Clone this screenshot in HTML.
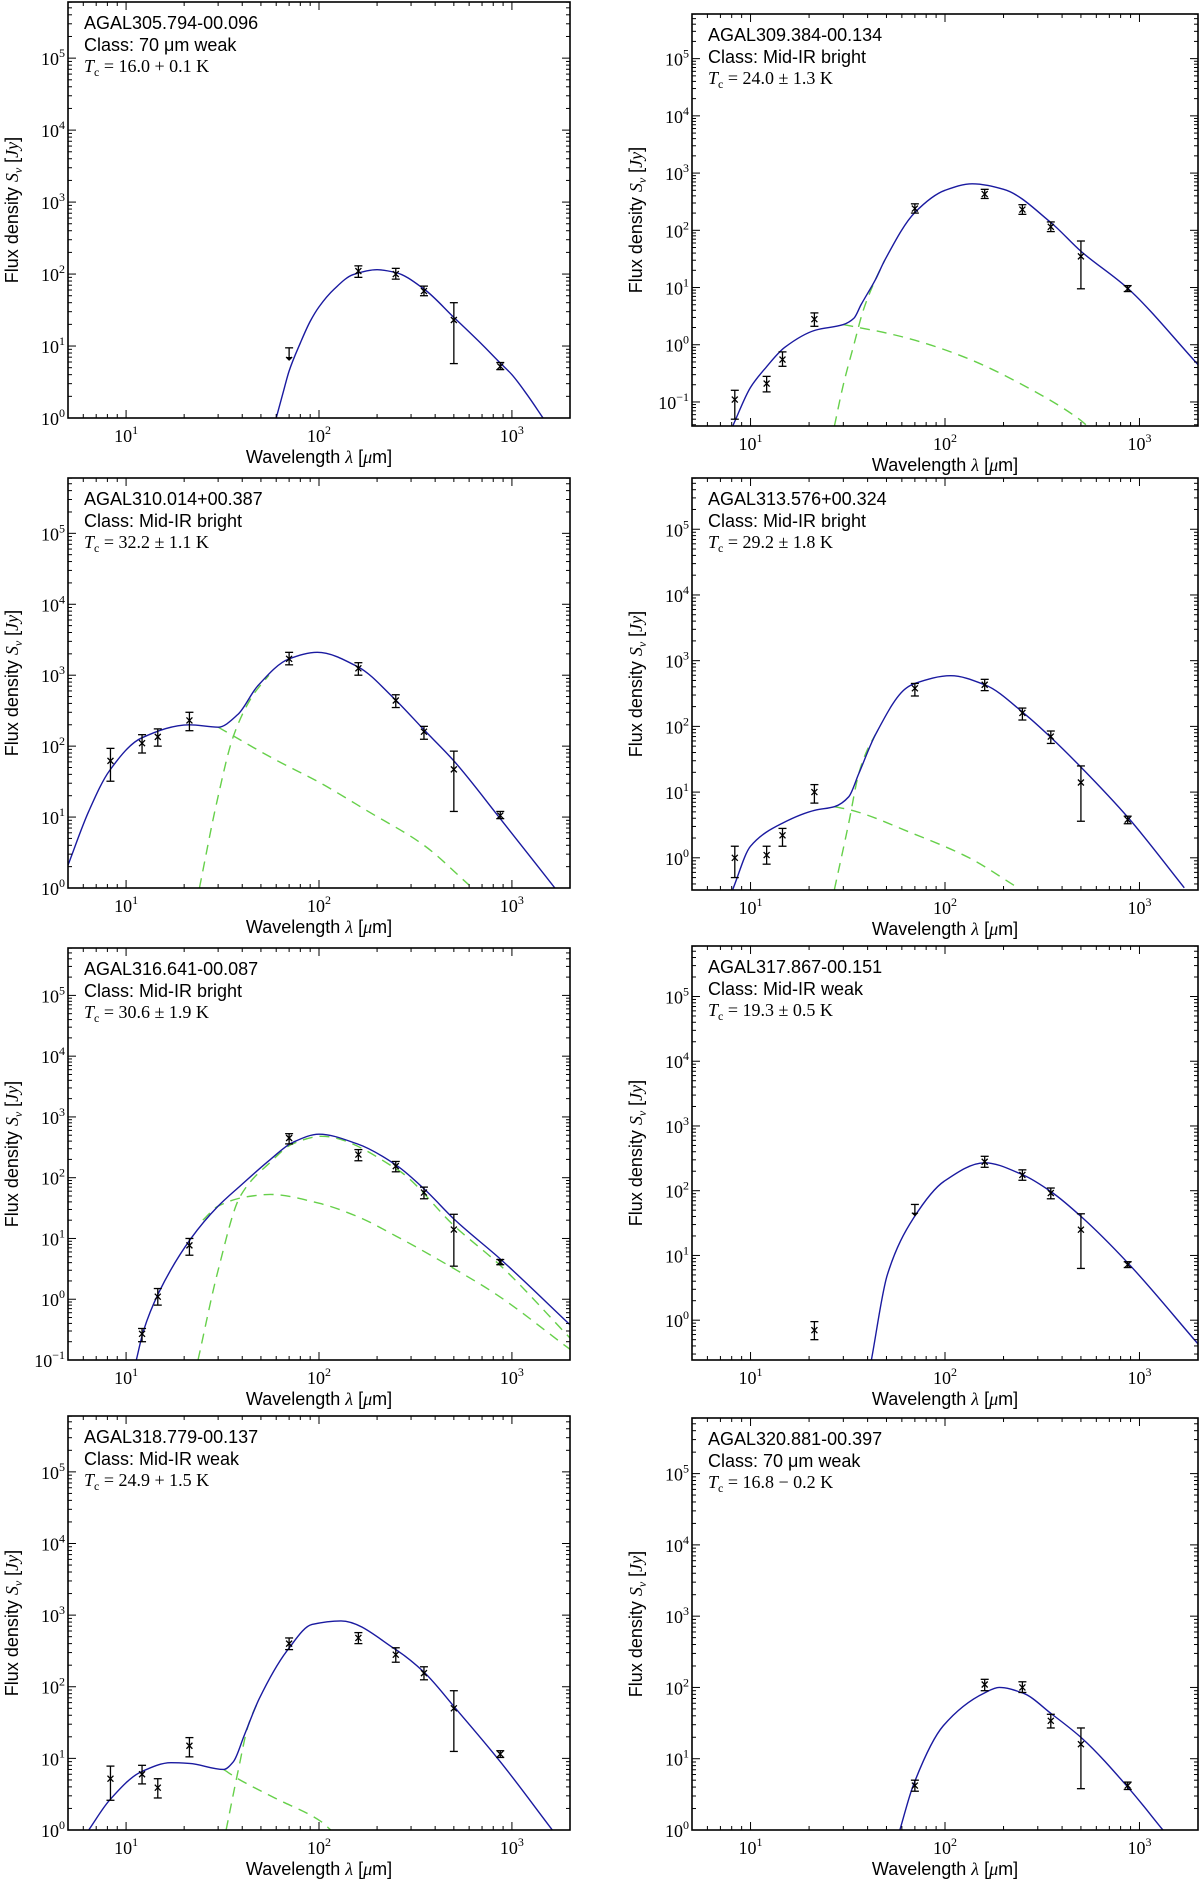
<!DOCTYPE html>
<html><head><meta charset="utf-8">
<style>
html,body{margin:0;padding:0;background:#fff;}
svg{display:block;}
.tk{font-family:"Liberation Serif",serif;font-size:18px;fill:#000;}
.lab{font-family:"Liberation Sans",sans-serif;font-size:18px;fill:#000;}
.ann{font-family:"Liberation Sans",sans-serif;font-size:18px;fill:#000;}
.annm{font-family:"Liberation Serif",serif;font-size:18px;fill:#000;}
</style></head>
<body>
<svg id="fig" width="1200" height="1879" viewBox="0 0 1200 1879" xmlns="http://www.w3.org/2000/svg"></svg>
<script>
// ---- data ----
const pointWave = [8.3, 12.1, 14.6, 21.3, 70, 160, 250, 350, 500, 870];
const sourceNames = ["AGAL305.794-00.096","AGAL309.384-00.134","AGAL310.014+00.387","AGAL313.576+00.324","AGAL316.641-00.087","AGAL317.867-00.151","AGAL318.779-00.137","AGAL320.881-00.397"];
const sourceClasses = ["70 μm weak","Mid-IR bright","Mid-IR bright","Mid-IR bright","Mid-IR bright","Mid-IR weak","Mid-IR weak","70 μm weak"];
const tempLabels = ["16.0 + 0.1 K","24.0 ± 1.3 K","32.2 ± 1.1 K","29.2 ± 1.8 K","30.6 ± 1.9 K","19.3 ± 0.5 K","24.9 + 1.5 K","16.8 − 0.2 K"];
const yMinLog = [0, -1.42, 0, -0.49, -1, -0.615, 0, 0];
const yMaxLog = 5.78;
const xMin = 5, xMax = 2000;

const p1Flux=[null,null,null,null,8,110,100,58,23,5.2];
const p1Lo=[null,null,null,null,null,90,85,50,5.7,4.7];
const p1Hi=[null,null,null,null,null,130,120,68,40,5.9];
const p2Flux=[0.11,0.21,0.55,2.8,240,430,230,115,35,9.5];
const p2Lo=[0.05,0.15,0.42,2.1,200,360,190,95,9.5,8.5];
const p2Hi=[0.16,0.28,0.75,3.6,290,520,280,140,65,10.8];
const p3Flux=[62,110,135,230,1700,1250,440,160,47,10.5];
const p3Lo=[32,80,100,165,1400,1000,350,125,12,9.5];
const p3Hi=[93,145,175,300,2100,1500,530,190,85,12];
const p4Flux=[1.0,1.1,2.2,10,380,430,160,70,14,3.8];
const p4Lo=[0.5,0.8,1.5,6.8,290,350,125,55,3.6,3.3];
const p4Hi=[1.5,1.5,2.8,13,450,520,190,85,25,4.3];
const p5Flux=[null,0.27,1.1,7.7,450,240,155,57,14,4.1];
const p5Lo=[null,0.2,0.8,5.3,360,190,125,45,3.5,3.7];
const p5Hi=[null,0.33,1.5,10,530,290,185,70,25,4.5];
const p6Flux=[null,null,null,0.7,52,280,175,92,25,7.2];
const p6Lo=[null,null,null,0.5,null,230,145,75,6.3,6.5];
const p6Hi=[null,null,null,0.95,null,340,210,110,44,8];
const p7Flux=[5.2,6,3.9,15,400,480,280,155,50,11.5];
const p7Lo=[2.6,4.4,2.8,10.5,330,400,220,125,12.5,10.3];
const p7Hi=[7.8,8,5.2,19.5,480,570,350,190,88,12.8];
const p8Flux=[null,null,null,null,4.2,110,100,34,16,4.2];
const p8Lo=[null,null,null,null,3.5,90,85,27,3.8,3.7];
const p8Hi=[null,null,null,null,5,130,120,42,27,4.7];
const upperLimitIdx=[4,null,null,null,null,4,null,null];

const p1FitW=[60,65,70,80,90,100,120,150,200,250,350,500,700,870,1000,1200,1450];
const p1FitS=[1,2.2,4.5,11,22,35,62,98,115,105,62,25,10.5,5.8,4.0,2.1,1];
const p2FitW=[8.1,10,12,15,21.6,30,34,37,44,49,70,100,138,200,350,500,870,2000];
const p2FitS=[0.038,0.18,0.4,0.9,1.8,2.25,2.9,5,14,30,205,500,650,520,137,43,9.7,0.45];
const p3FitW=[5,6.4,8.2,12,21.3,30,38,48,70,98,160,245,350,500,870,1670];
const p3FitS=[2.1,12,45,130,200,185,280,700,1700,2100,1300,470,170,62,9.5,1];
const p4FitW=[8.1,10,14.7,21.5,27,32,36,44,63,70,107,160,260,350,500,880,1700];
const p4FitS=[0.33,1.5,3.4,5.3,6,8.5,19,76,380,450,590,430,150,68,24,4,0.35];
const p5FitW=[11.3,12.3,14.8,21.7,30,39,56,73,100,158,254,355,508,870,2000];
const p5FitS=[0.1,0.3,1.3,10,34,73,200,380,520,360,157,63,20,4.6,0.38];
const p6FitW=[41.8,50.5,69,99,160,250,357,510,870,2000];
const p6FitS=[0.24,5,38,140,270,177,93,38,7.7,0.43];
const p7FitW=[6.4,8.2,12,17.1,21.3,32,36,41,49,69,92,130,250,350,510,870,1620];
const p7FitS=[1,2.6,6.5,8.7,8.5,7,9,21,68,330,740,830,330,160,50,9,1];
const p8FitW=[58.6,68.6,98,160,190,250,355,510,885,1320];
const p8FitS=[1,4.2,29,84,100,84,42,19,3.8,1];

const p2WarmW=[30,50,70,127,250,490,540];
const p2WarmS=[2.25,1.6,1.2,0.6,0.2,0.05,0.038];
const p3WarmW=[30,59,100,180,350,600];
const p3WarmS=[185,65,31,12,4,1.1];
const p4WarmW=[27,33,67,133,237];
const p4WarmS=[6,5.3,2.4,1,0.35];
const p5WarmW=[25,30,43,56,100,158,250,500,830,2000];
const p5WarmS=[20,34,49,53,38,23,11,3.2,1.2,0.15];
const p7WarmW=[32,38,59,103,115];
const p7WarmS=[7,5.2,2.8,1.3,1];
const p2ColdW=[27,30,34,38,44,49];
const p2ColdS=[0.038,0.2,1.0,4,14,30];
const p3ColdW=[24,29.5,36,45,55];
const p3ColdS=[1,16,138,500,1000];
const p4ColdW=[27,32,36,40,44];
const p4ColdS=[0.33,3.4,19,45,76];
const p5ColdW=[23.6,30,39,56,73,103,254,508,870,2000];
const p5ColdS=[0.1,3,49,180,360,480,137,15.6,3.6,0.23];
const p7ColdW=[33,38,43,49];
const p7ColdS=[1,6.5,29,68];

// ---- layout ----
const frames=[[68,2,570,418],[692,14,1198,426],[68,478,570,888],[692,478,1198,890],[68,948,570,1360],[692,946,1198,1360],[68,1416,570,1830],[692,1418,1198,1830]];
const fluxes=[p1Flux,p2Flux,p3Flux,p4Flux,p5Flux,p6Flux,p7Flux,p8Flux];
const los=[p1Lo,p2Lo,p3Lo,p4Lo,p5Lo,p6Lo,p7Lo,p8Lo];
const his=[p1Hi,p2Hi,p3Hi,p4Hi,p5Hi,p6Hi,p7Hi,p8Hi];
const fitsW=[p1FitW,p2FitW,p3FitW,p4FitW,p5FitW,p6FitW,p7FitW,p8FitW];
const fitsS=[p1FitS,p2FitS,p3FitS,p4FitS,p5FitS,p6FitS,p7FitS,p8FitS];
const warms={1:[p2WarmW,p2WarmS],2:[p3WarmW,p3WarmS],3:[p4WarmW,p4WarmS],4:[p5WarmW,p5WarmS],6:[p7WarmW,p7WarmS]};
const colds={1:[p2ColdW,p2ColdS],2:[p3ColdW,p3ColdS],3:[p4ColdW,p4ColdS],4:[p5ColdW,p5ColdS],6:[p7ColdW,p7ColdS]};

const NS="http://www.w3.org/2000/svg";
const svg=document.getElementById('fig');
function mk(tag,attrs,parent){const e=document.createElementNS(NS,tag);for(const k in attrs)e.setAttribute(k,attrs[k]);(parent||svg).appendChild(e);return e;}

function smoothPath(pts){
  const n=pts.length;
  const dx=[],dy=[],m=[];
  for(let i=0;i<n-1;i++){dx.push(pts[i+1][0]-pts[i][0]);dy.push(pts[i+1][1]-pts[i][1]);m.push(dy[i]/dx[i]);}
  const t=new Array(n);
  t[0]=m[0];t[n-1]=m[n-2];
  for(let i=1;i<n-1;i++){
    if(m[i-1]*m[i]<=0)t[i]=0;
    else{const w1=2*dx[i]+dx[i-1],w2=dx[i]+2*dx[i-1];t[i]=(w1+w2)/(w1/m[i-1]+w2/m[i]);}
  }
  let d='M'+pts[0][0].toFixed(2)+','+pts[0][1].toFixed(2);
  for(let i=0;i<n-1;i++){
    const h=dx[i]/3;
    d+=' C'+(pts[i][0]+h).toFixed(2)+','+(pts[i][1]+t[i]*h).toFixed(2)+' '+(pts[i+1][0]-h).toFixed(2)+','+(pts[i+1][1]-t[i+1]*h).toFixed(2)+' '+pts[i+1][0].toFixed(2)+','+pts[i+1][1].toFixed(2);
  }
  return d;
}

frames.forEach((f,i)=>{
  const [L,T,R,B]=f;
  const yMin=yMinLog[i];
  const g=mk('g',{});
  
  
  const xs=v=>L+(Math.log10(v)-Math.log10(xMin))/(Math.log10(xMax)-Math.log10(xMin))*(R-L);
  const ys=v=>B-(Math.log10(v)-yMin)/(yMaxLog-yMin)*(B-T);
  const cid='clip'+i;
  const cp=mk('clipPath',{id:cid},g);
  mk('rect',{x:L,y:T,width:R-L,height:B-T},cp);
  const plot=mk('g',{'clip-path':'url(#'+cid+')'},g);

  [colds[i],warms[i]].forEach((c,ci)=>{
    if(!c)return;
    const p=mk('path',{d:smoothPath(c[0].map((w,k)=>[xs(w),ys(c[1][k])])),fill:'none',stroke:'#66d04a','stroke-width':1.4,'stroke-dasharray':'10,7'},plot);
    
    
  });
  const fp=mk('path',{d:smoothPath(fitsW[i].map((w,k)=>[xs(w),ys(fitsS[i][k])])),fill:'none',stroke:'#1a1aa0','stroke-width':1.4},plot);
  
  

  pointWave.forEach((w,k)=>{
    const v=fluxes[i][k]; if(v==null)return;
    const x=xs(w),y=ys(v);
    const pg=mk('g',{stroke:'#000','stroke-width':1.3,fill:'none'},plot);
    
    
    if(upperLimitIdx[i]===k){
      const yt=ys(v*1.18);
      mk('line',{x1:x-4,y1:yt,x2:x+4,y2:yt},pg);
      mk('line',{x1:x,y1:yt,x2:x,y2:ys(v*0.82)},pg);
      mk('path',{d:`M${x-3},${ys(v*0.88)} L${x},${ys(v*0.8)} L${x+3},${ys(v*0.88)}`,fill:'#000'},pg);
      return;
    }
    const lo=los[i][k],hi=his[i][k];
    if(lo!=null&&hi!=null){
      mk('line',{x1:x,y1:ys(lo),x2:x,y2:ys(hi)},pg);
      mk('line',{x1:x-4,y1:ys(lo),x2:x+4,y2:ys(lo)},pg);
      mk('line',{x1:x-4,y1:ys(hi),x2:x+4,y2:ys(hi)},pg);
    }
    mk('path',{d:`M${x-3},${y-3} L${x+3},${y+3} M${x-3},${y+3} L${x+3},${y-3}`},pg);
  });

  const tg=mk('g',{stroke:'#000','stroke-width':1},g);
  
  
  for(let e=0;e<=3;e++){for(let m=1;m<=9;m++){
    const v=m*Math.pow(10,e); if(v<xMin||v>xMax)continue;
    const x=xs(v),len=m===1?8:4;
    mk('line',{x1:x,y1:B,x2:x,y2:B-len},tg);mk('line',{x1:x,y1:T,x2:x,y2:T+len},tg);
  }}
  for(let e=-2;e<=6;e++){for(let m=1;m<=9;m++){
    const lv=Math.log10(m)+e; if(lv<yMin||lv>yMaxLog)continue;
    const y=B-(lv-yMin)/(yMaxLog-yMin)*(B-T),len=m===1?8:4;
    mk('line',{x1:L,y1:y,x2:L+len,y2:y},tg);mk('line',{x1:R,y1:y,x2:R-len,y2:y},tg);
  }}
  const fr=mk('rect',{x:L,y:T,width:R-L,height:B-T,fill:'none',stroke:'#000','stroke-width':1.6},g);
  
  

  [1,2,3].forEach(e=>{
    const t=mk('text',{x:xs(Math.pow(10,e)),y:B+24,'text-anchor':'middle',class:'tk'},g);
    
    
    t.innerHTML='10<tspan dy="-8" font-size="12">'+e+'</tspan>';
  });
  for(let e=Math.ceil(yMin-1e-6);e<=5;e++){
    const y=B-(e-yMin)/(yMaxLog-yMin)*(B-T);
    const t=mk('text',{x:L-3,y:y+7,'text-anchor':'end',class:'tk'},g);
    
    
    const s=e<0?'−'+(-e):''+e;
    t.innerHTML='10<tspan dy="-8" font-size="12">'+s+'</tspan>';
  }
  const xl=mk('text',{x:(L+R)/2,y:B+45,'text-anchor':'middle',class:'lab'},g);
  
  
  xl.innerHTML='Wavelength <tspan font-family="Liberation Serif" font-style="italic">λ</tspan> [<tspan font-family="Liberation Serif" font-style="italic">μ</tspan>m]';
  const yl=mk('text',{x:0,y:0,'text-anchor':'middle',class:'lab',transform:`translate(${L-50},${(T+B)/2}) rotate(-90)`},g);
  
  
  yl.innerHTML='Flux density <tspan font-family="Liberation Serif" font-style="italic">S<tspan font-size="12" dy="4">ν</tspan></tspan><tspan dy="-4"> [</tspan><tspan font-family="Liberation Serif" font-style="italic">Jy</tspan>]';
  const a1=mk('text',{x:L+16,y:T+27,class:'ann'},g);
  
  
  a1.textContent=sourceNames[i];
  const a2=mk('text',{x:L+16,y:T+49,class:'ann'},g);
  
  
  a2.textContent='Class: '+sourceClasses[i];
  const a3=mk('text',{x:L+16,y:T+70,class:'annm'},g);
  
  
  a3.innerHTML='<tspan font-style="italic">T</tspan><tspan font-size="12" dy="4">c</tspan><tspan dy="-4"> = '+tempLabels[i]+'</tspan>';
});
</script>
</body></html>
